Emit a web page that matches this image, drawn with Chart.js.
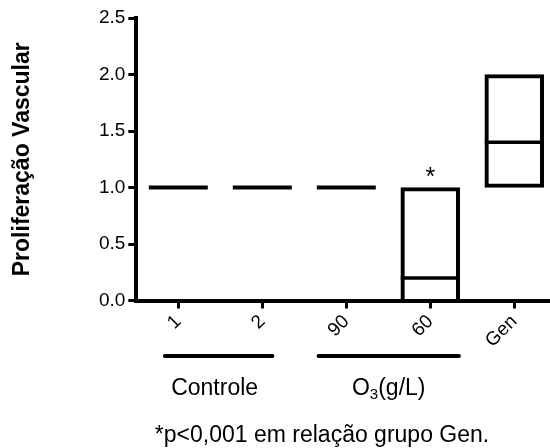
<!DOCTYPE html>
<html>
<head>
<meta charset="utf-8">
<script src="https://cdn.jsdelivr.net/npm/chart.js@4.4.0/dist/chart.umd.min.js"></script>
<style>
  html, body { margin: 0; padding: 0; background: #fff; }
</style>
</head>
<body>
<canvas id="chart" width="550" height="448"></canvas>
<script>
// data
const categories = ['1', '2', '90', '60', 'Gen'];
const boxMin = [1, 1, 1, 0, 1];
const boxMax = [1, 1, 1, 1, 2];
const boxMedian = [1, 1, 1, 0.2, 1.4];
const yTicks = [0, 0.5, 1.0, 1.5, 2.0, 2.5];
const significant = ['60'];
const footnote = '*p<0,001 em relação grupo Gen.';

const FONT = '"Liberation Sans", Arial, sans-serif';

// group brackets under the axis, spans given in axis units
const groupLines = [
    { label: 'Controle', from: -0.16, to: 1.12 },
    { label: 'O3', from: 1.67, to: 3.34 },
];

const extras = {
    id: 'extras',
    afterDatasetsDraw(chart) {
        const ctx = chart.ctx;
        const ys = chart.scales.y;
        const meta = chart.getDatasetMeta(0);
        ctx.save();
        ctx.strokeStyle = '#000';
        ctx.fillStyle = '#000';

        // medians (flat boxes end up as a single thick dash)
        meta.data.forEach((bar, i) => {
            const half = bar.width / 2;
            const py = ys.getPixelForValue(boxMedian[i]);
            ctx.lineWidth = boxMin[i] === boxMax[i] ? 4 : 3.5;
            ctx.beginPath();
            ctx.moveTo(bar.x - half, py);
            ctx.lineTo(bar.x + half, py);
            ctx.stroke();
        });

        // significance mark
        ctx.font = '25px ' + FONT;
        ctx.textAlign = 'center';
        ctx.textBaseline = 'alphabetic';
        significant.forEach(cat => {
            const i = categories.indexOf(cat);
            const bar = meta.data[i];
            ctx.fillText('*', bar.x, ys.getPixelForValue(boxMax[i]) - 3);
        });
        ctx.restore();
    },
    afterDraw(chart) {
        const ctx = chart.ctx;
        const xs = chart.scales.x;
        ctx.save();
        ctx.strokeStyle = '#000';
        ctx.fillStyle = '#000';
        ctx.lineWidth = 4;
        ctx.lineCap = 'round';

        groupLines.forEach(g => {
            const x1 = xs.getPixelForValue(g.from);
            const x2 = xs.getPixelForValue(g.to);
            ctx.beginPath();
            ctx.moveTo(x1, 356);
            ctx.lineTo(x2, 356);
            ctx.stroke();

            const mid = (x1 + x2) / 2;
            ctx.textBaseline = 'alphabetic';
            if (g.label === 'O3') {
                // O with subscript 3, then (g/L)
                ctx.font = '23px ' + FONT;
                const wO = ctx.measureText('O').width;
                const wRest = ctx.measureText('(g/L)').width;
                ctx.font = '15px ' + FONT;
                const w3 = ctx.measureText('3').width;
                let x = mid - (wO + w3 + wRest) / 2;
                ctx.textAlign = 'left';
                ctx.font = '23px ' + FONT;
                ctx.fillText('O', x, 395);
                x += wO;
                ctx.font = '15px ' + FONT;
                ctx.fillText('3', x, 399);
                x += w3;
                ctx.font = '23px ' + FONT;
                ctx.fillText('(g/L)', x, 395);
            } else {
                ctx.font = '23px ' + FONT;
                ctx.textAlign = 'center';
                ctx.fillText(g.label, mid - 4, 395);
            }
        });

        ctx.font = '23px ' + FONT;
        ctx.textAlign = 'center';
        ctx.fillText(footnote, 322, 442);
        ctx.restore();
    }
};

new Chart(document.getElementById('chart'), {
    type: 'bar',
    data: {
        datasets: [{
            data: categories.map((c, i) => ({ x: i, y: [boxMin[i], boxMax[i]] })),
            backgroundColor: 'rgba(0,0,0,0)',
            borderColor: '#000',
            borderWidth: 3.5,
            // a box sitting on zero lets the axis line be its bottom edge
            borderSkipped: ctx => boxMin[ctx.dataIndex] === 0 ? 'start' : false,
            barThickness: 59,
        }],
    },
    options: {
        responsive: false,
        animation: false,
        devicePixelRatio: 1,
        layout: { padding: { top: 18, right: 0, bottom: 0, left: 0 } },
        plugins: {
            legend: { display: false },
            tooltip: { enabled: false },
        },
        scales: {
            x: {
                type: 'linear',
                offset: false,
                min: -0.5,
                max: 4.425,
                afterBuildTicks: s => { s.ticks = categories.map((c, i) => ({ value: i })); },
                afterFit: s => { s.height = 147.5; },
                ticks: {
                    callback: v => categories[v],
                    minRotation: 45,
                    maxRotation: 45,
                    autoSkip: false,
                    color: '#000',
                    padding: 2,
                    font: { size: 19, family: FONT },
                },
                grid: { offset: false, drawOnChartArea: false, drawTicks: true, tickLength: 8, lineWidth: 3, color: '#000' },
                border: { width: 4, color: '#000' },
            },
            y: {
                min: 0,
                max: 2.5,
                afterBuildTicks: s => { s.ticks = yTicks.map(v => ({ value: v })); },
                afterFit: s => { s.width = 136.3; },
                ticks: {
                    callback: v => v.toFixed(1),
                    color: '#000',
                    padding: 3,
                    font: { size: 19, family: FONT },
                },
                grid: { drawOnChartArea: false, drawTicks: true, tickLength: 8, lineWidth: 3, color: '#000' },
                border: { width: 4, color: '#000' },
                title: {
                    display: true,
                    text: 'Proliferação Vascular',
                    color: '#000',
                    font: { size: 23, weight: 'bold', family: FONT },
                    padding: { top: 9, bottom: 0 },
                },
            },
        },
    },
    plugins: [extras],
});
</script>
</body>
</html>
